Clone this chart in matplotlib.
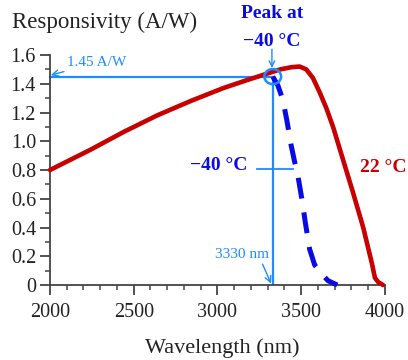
import matplotlib
matplotlib.use("Agg")
import matplotlib.pyplot as plt
from matplotlib.ticker import MultipleLocator
from matplotlib.patches import Ellipse

# Data
wl_22 = [2000, 2240, 2440, 2640, 2840, 3035, 3175, 3295, 3375, 3440, 3490, 3530, 3570,
         3612, 3650, 3690, 3750, 3810, 3870, 3922, 3940, 3960, 3988]
resp_22 = [0.80, 0.94, 1.065, 1.18, 1.28, 1.37, 1.425, 1.47, 1.50, 1.515, 1.52, 1.50, 1.44,
           1.335, 1.23, 1.10, 0.87, 0.64, 0.40, 0.15, 0.05, 0.02, 0.0]
wl_m40 = [3330, 3360, 3390, 3415, 3440, 3460, 3480, 3505, 3525, 3550, 3580, 3620, 3660, 3715]
resp_m40 = [1.45, 1.39, 1.29, 1.14, 0.97, 0.86, 0.76, 0.59, 0.43, 0.25, 0.14, 0.08, 0.03, 0.0]
peak_wl = 3330
peak_resp = 1.45
x_ticks = [2000, 2500, 3000, 3500, 4000]
y_ticks = [0, 0.2, 0.4, 0.6, 0.8, 1.0, 1.2, 1.4, 1.6]
y_ticklabels = ["0", "0.2", "0.4", "0.6", "0.8", "1.0", "1.2", "1.4", "1.6"]

RED = "#c80000"
BLUE = "#0a0ae6"
LBLUE = "#1e8cff"
AXC = "#444444"

plt.rcParams['font.family'] = ['Liberation Serif', 'DejaVu Serif']

fig = plt.figure(figsize=(4.08, 3.6), dpi=100)
ax = fig.add_axes([0.1225, 0.2083, 0.8211, 0.6389])
ax.set_xlim(2000, 4000)
ax.set_ylim(0, 1.6)

for s in ["top", "right"]:
    ax.spines[s].set_visible(False)
for s in ["left", "bottom"]:
    ax.spines[s].set_color(AXC)
    ax.spines[s].set_linewidth(1.3)

ax.set_xticks(x_ticks)
ax.set_yticks(y_ticks)
ax.set_yticklabels(y_ticklabels)
ax.xaxis.set_minor_locator(MultipleLocator(100))
ax.yaxis.set_minor_locator(MultipleLocator(0.1))
ax.tick_params(which="major", direction="out", length=7, width=1.3, color=AXC,
               labelsize=14.5, labelcolor="#222222")
ax.tick_params(axis="x", which="major", pad=6)
ax.tick_params(axis="y", which="major", pad=3)
ax.tick_params(which="minor", direction="out", length=3.5, width=1.1, color=AXC)

# reference lines
ax.plot([2000, peak_wl], [peak_resp, peak_resp], color=LBLUE, lw=1.6, clip_on=False, zorder=2)
ax.plot([peak_wl, peak_wl], [0, peak_resp], color=LBLUE, lw=1.6, zorder=2)

# curves
ax.plot(wl_22, resp_22, color=RED, lw=3.3, solid_capstyle="round", solid_joinstyle="round",
        zorder=3, clip_on=False)
ax.plot(wl_m40, resp_m40, color=BLUE, lw=3.6, dashes=(4.2, 2.8), zorder=4, clip_on=False)

# circle at peak
ax.add_patch(Ellipse((peak_wl, peak_resp), width=100, height=0.105, fill=False,
                     edgecolor=LBLUE, lw=1.8, zorder=5))

# annotations
ax.annotate("1.45 A/W", xy=(2005, peak_resp + 0.01), xytext=(2100, 1.545),
            color=LBLUE, fontsize=11, va="center", ha="left",
            arrowprops=dict(arrowstyle="->", color=LBLUE, lw=1.0, shrinkA=0, shrinkB=0))
ax.annotate("3330 nm", xy=(peak_wl - 10, 0.01), xytext=(3330 - 20, 0.21),
            color=LBLUE, fontsize=11, va="center", ha="right",
            arrowprops=dict(arrowstyle="->", color=LBLUE, lw=1.0, shrinkA=0, shrinkB=0,
                            relpos=(0.85, 0.0)))
ax.annotate("", xy=(peak_wl - 5, 1.51), xytext=(peak_wl - 5, 1.64),
            arrowprops=dict(arrowstyle="->", color=LBLUE, lw=1.0, shrinkA=0, shrinkB=0),
            annotation_clip=False)
fig.text(272 / 408, 1 - 14 / 360, "Peak at", color=BLUE, fontsize=14, fontweight="bold",
         ha="center", va="center")
fig.text(272 / 408, 1 - 42 / 360, "\u221240 \u00b0C", color=BLUE, fontsize=14, fontweight="bold",
         ha="center", va="center")

ax.plot([3236, 3451], [0.81, 0.81], color=LBLUE, lw=1.3, zorder=2)
ax.text(3176, 0.83, "\u221240 \u00b0C", color=BLUE, fontsize=14, fontweight="bold",
        ha="right", va="center")
fig.text(406 / 408, 1 - 167 / 360, "22 \u00b0C", color=RED, fontsize=14, fontweight="bold",
         ha="right", va="center")

fig.text(12 / 408, 1 - 22 / 360, "Responsivity (A/W)", fontsize=16.5, color="#222222",
         ha="left", va="center")
fig.text(222 / 408, 1 - 348 / 360, "Wavelength (nm)", fontsize=16, color="#222222",
         ha="center", va="center")

fig.savefig("out.png", dpi=100)
